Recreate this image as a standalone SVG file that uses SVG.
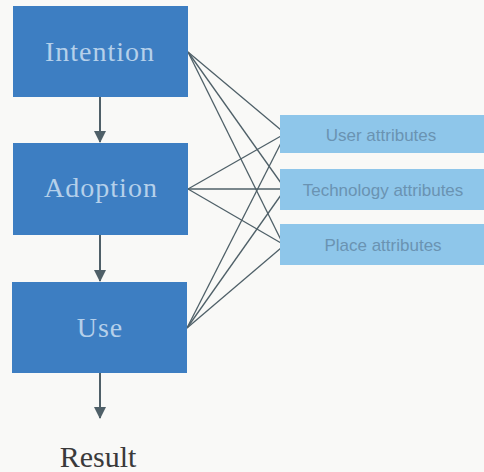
<svg xmlns="http://www.w3.org/2000/svg" width="484" height="472" viewBox="0 0 484 472">
<defs>
<style>
.main{fill:#3d7ec2}
.mt{font-family:"Liberation Serif",serif;font-size:28px;fill:#b5d0ea;text-anchor:middle;letter-spacing:1px}
.attr{fill:#8ec6ea}
.at{font-family:"Liberation Sans",sans-serif;font-size:17px;fill:#6a93b2;text-anchor:middle}
.ln{stroke:#4f6068;stroke-width:1.3;fill:none}
.ar{stroke:#4f6068;stroke-width:2;fill:none}
</style>
<marker id="ah" markerWidth="12" markerHeight="12" refX="11" refY="6" orient="auto" markerUnits="userSpaceOnUse">
<path d="M0,0 L12,6 L0,12 Z" fill="#4f6068"/>
</marker>
</defs>
<rect width="484" height="472" fill="#f9f9f7"/>
<g id="connectors">
<line class="ar" x1="100" y1="97" x2="100" y2="142" marker-end="url(#ah)"/>
<line class="ar" x1="100" y1="235" x2="100" y2="281" marker-end="url(#ah)"/>
<line class="ar" x1="100" y1="373" x2="100" y2="418" marker-end="url(#ah)"/>
<line class="ln" x1="188" y1="52" x2="281" y2="130"/>
<line class="ln" x1="188" y1="52" x2="281" y2="183"/>
<line class="ln" x1="188" y1="52" x2="281" y2="240"/>
<line class="ln" x1="188" y1="189" x2="281" y2="136"/>
<line class="ln" x1="188" y1="189" x2="281" y2="189"/>
<line class="ln" x1="188" y1="189" x2="281" y2="243"/>
<line class="ln" x1="187" y1="328" x2="281" y2="143"/>
<line class="ln" x1="187" y1="328" x2="281" y2="195"/>
<line class="ln" x1="187" y1="328" x2="281" y2="248"/>
</g>
<g id="intention"><rect class="main" x="13" y="6" width="175" height="91"/><text class="mt" x="100" y="61">Intention</text></g>
<g id="adoption"><rect class="main" x="13" y="143" width="175" height="92"/><text class="mt" x="101" y="197">Adoption</text></g>
<g id="use"><rect class="main" x="12" y="282" width="175" height="91"/><text class="mt" x="100" y="337">Use</text></g>
<g id="result"><text x="98" y="467" font-family="Liberation Serif,serif" font-size="30" fill="#3a3a3a" text-anchor="middle">Result</text></g>
<g id="user"><rect class="attr" x="280" y="115" width="204" height="38"/><text class="at" x="381" y="141">User attributes</text></g>
<g id="technology"><rect class="attr" x="280" y="169" width="204" height="41"/><text class="at" x="383" y="196">Technology attributes</text></g>
<g id="place"><rect class="attr" x="280" y="224" width="204" height="41"/><text class="at" x="383" y="251">Place attributes</text></g>
</svg>
